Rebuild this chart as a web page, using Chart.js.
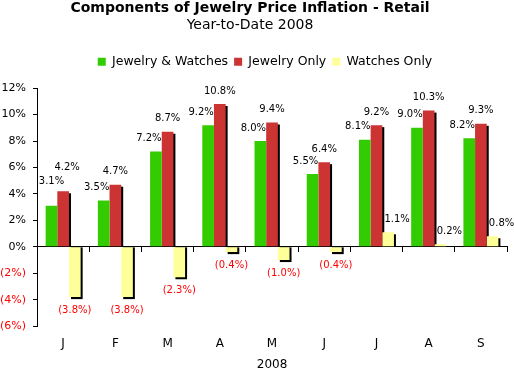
<!DOCTYPE html>
<html>
<head>
<meta charset="utf-8">
<script src="https://cdn.jsdelivr.net/npm/chart.js@4"></script>
<style>
  body { margin: 0; background: #fff; }
  #wrap { width: 514px; height: 369px; }
</style>
</head>
<body>
<div id="wrap"><canvas id="chart"></canvas></div>
<script>
// Data
const months = ['J', 'F', 'M', 'A', 'M', 'J', 'J', 'A', 'S'];
const jewelryWatches = [3.1, 3.5, 7.2, 9.2, 8.0, 5.5, 8.1, 9.0, 8.2];
const jewelryOnly = [4.2, 4.7, 8.7, 10.8, 9.4, 6.4, 9.2, 10.3, 9.3];
const watchesOnly = [-3.8, -3.8, -2.3, -0.4, -1.0, -0.4, 1.1, 0.2, 0.8];
const yMin = -6, yMax = 12, yStep = 2;

const FONT = "'DejaVu Sans', Verdana, sans-serif";

function pct(v) {
    return v < 0 ? '(' + (-v).toFixed(1) + '%)' : v.toFixed(1) + '%';
}

// black drop shadow on the right/bottom of red and yellow bars,
// drawn before all bars so neighbouring bars cover it
const barShadow = {
    id: 'barShadow',
    beforeDatasetsDraw(chart) {
        const ctx = chart.ctx;
        ctx.save();
        ctx.fillStyle = '#000';
        chart.data.datasets.forEach((ds, i) => {
            if (i === 0) return;
            chart.getDatasetMeta(i).data.forEach(bar => {
                const p = bar.getProps(['x', 'y', 'base', 'width'], true);
                const left = p.x - p.width / 2;
                if (p.y < p.base) {
                    ctx.fillRect(left + 2, p.y + 2, p.width, p.base - p.y - 2);
                } else {
                    ctx.fillRect(left + 2, p.base, p.width, p.y - p.base + 2);
                }
            });
        });
        ctx.restore();
    }
};

// value labels above / below the bars
const valueLabels = {
    id: 'valueLabels',
    afterDatasetsDraw(chart) {
        const ctx = chart.ctx;
        const dx = [-7, 0, 9];
        ctx.save();
        ctx.font = '10px ' + FONT;
        ctx.textAlign = 'center';
        ctx.textBaseline = 'middle';
        chart.data.datasets.forEach((ds, i) => {
            const meta = chart.getDatasetMeta(i);
            meta.data.forEach((bar, j) => {
                const v = ds.data[j];
                let x = bar.x, y;
                if (v >= 0) {
                    x += dx[i];
                    y = bar.y - 13;
                } else {
                    y = bar.y + 13;
                }
                // first group labels sit higher in the original
                if (j === 0 && v >= 0) {
                    x = bar.x + (i === 0 ? 0 : 4);
                    y = bar.y - 24;
                }
                ctx.fillStyle = v < 0 ? '#ff0000' : '#000';
                ctx.fillText(pct(v), x, y);
            });
        });
        ctx.restore();
    }
};

// extra room under the legend, and the legend sits a bit right of centre
const legendTweak = {
    id: 'legendTweak',
    beforeInit(chart) {
        const legend = chart.legend;
        const fit = legend.fit;
        const draw = legend.draw;
        legend.fit = function () {
            fit.call(this);
            this.height += 10;
        };
        legend.draw = function (area) {
            this.ctx.save();
            this.ctx.translate(15, 0);
            draw.call(this, area);
            this.ctx.restore();
        };
    }
};

new Chart(document.getElementById('chart'), {
    type: 'bar',
    data: {
        labels: months,
        datasets: [
            { label: 'Jewelry & Watches', data: jewelryWatches, backgroundColor: '#33cc00', borderWidth: 0 },
            { label: 'Jewelry Only', data: jewelryOnly, backgroundColor: '#cc3333', borderWidth: 0 },
            { label: 'Watches Only', data: watchesOnly, backgroundColor: '#ffff99', borderWidth: 0 }
        ]
    },
    plugins: [barShadow, valueLabels, legendTweak],
    options: {
        responsive: true,
        maintainAspectRatio: false,
        animation: false,
        layout: { padding: { left: -7, right: 7, top: 0, bottom: -3 } },
        datasets: { bar: { barPercentage: 1.0, categoryPercentage: 0.67 } },
        plugins: {
            title: {
                display: true,
                text: 'Components of Jewelry Price Inflation - Retail',
                color: '#000',
                font: { family: FONT, size: 14, weight: 'bold' },
                padding: { top: 0, bottom: 0 }
            },
            subtitle: {
                display: true,
                text: 'Year-to-Date 2008',
                color: '#000',
                font: { family: FONT, size: 14 },
                padding: { top: 0, bottom: 16 }
            },
            legend: {
                labels: {
                    boxWidth: 8,
                    boxHeight: 8,
                    padding: 6,
                    color: '#000',
                    font: { family: FONT, size: 12.5 }
                }
            },
            tooltip: { enabled: false }
        },
        scales: {
            x: {
                type: 'category',
                position: { y: 0 },
                offset: true,
                ticks: { display: false },
                grid: { display: true, offset: true, drawOnChartArea: false, tickLength: 5, color: '#000' },
                border: { display: true, color: '#000' }
            },
            x2: {
                type: 'category',
                labels: months,
                position: 'bottom',
                offset: true,
                grid: { display: false, drawTicks: false },
                border: { display: false },
                ticks: { color: '#000', font: { family: FONT, size: 12 }, padding: 10 },
                title: { display: true, text: '2008', color: '#000', font: { family: FONT, size: 12 }, padding: { top: -3, bottom: 0 } }
            },
            y: {
                min: yMin,
                max: yMax,
                ticks: {
                    stepSize: yStep,
                    padding: 7,
                    font: { family: FONT, size: 11 },
                    color: c => c.tick.value < 0 ? '#ff0000' : '#000',
                    callback: v => v < 0 ? '(' + (-v) + '%)' : v + '%'
                },
                grid: { drawOnChartArea: false, tickLength: 4, color: '#000' },
                border: { display: true, color: '#000' }
            }
        }
    }
});
</script>
</body>
</html>
